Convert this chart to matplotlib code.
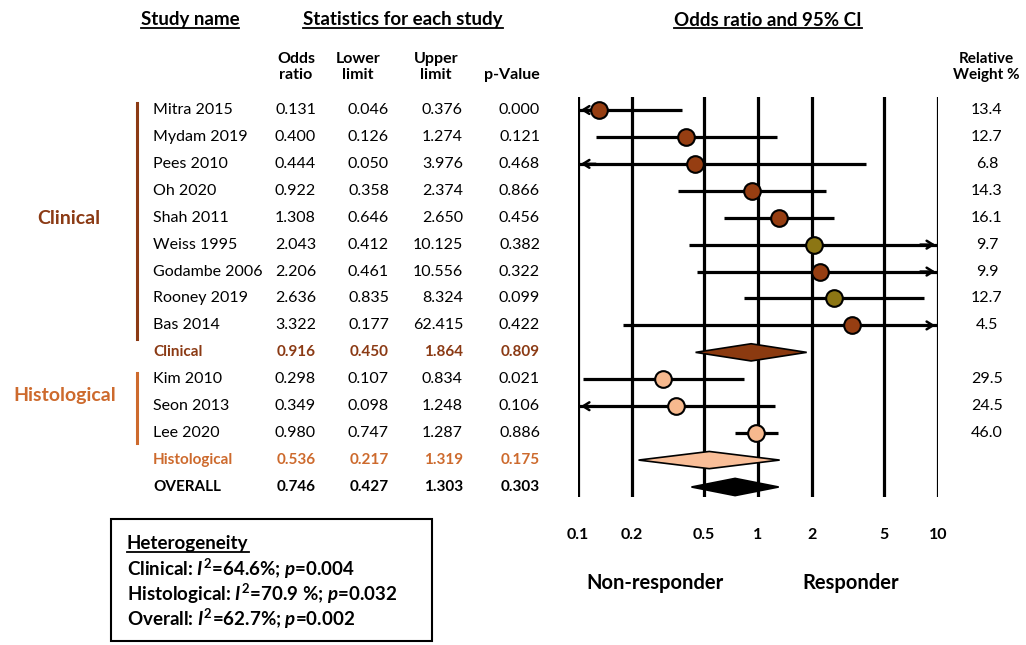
import numpy as np
import matplotlib.pyplot as plt
import matplotlib.patches as patches
import matplotlib.transforms as mtransforms
from matplotlib.lines import Line2D

plt.rcParams['font.family'] = ['Lato', 'DejaVu Sans']
plt.rcParams['mathtext.fontset'] = 'custom'
plt.rcParams['mathtext.rm'] = 'Lato:bold'
plt.rcParams['mathtext.it'] = 'Lato:bold:italic'
plt.rcParams['mathtext.bf'] = 'Lato:bold'

# Data
study_names = ['Mitra 2015', 'Mydam 2019', 'Pees 2010', 'Oh 2020', 'Shah 2011',
               'Weiss 1995', 'Godambe 2006', 'Rooney 2019', 'Bas 2014',
               'Clinical', 'Kim 2010', 'Seon 2013', 'Lee 2020',
               'Histological', 'OVERALL']
row_kind = ['study'] * 9 + ['sub'] + ['study'] * 3 + ['sub', 'overall']
row_group = ['clin'] * 10 + ['hist'] * 4 + ['all']
odds_ratio = [0.131, 0.400, 0.444, 0.922, 1.308, 2.043, 2.206, 2.636, 3.322,
              0.916, 0.298, 0.349, 0.980, 0.536, 0.746]
lower_limit = [0.046, 0.126, 0.050, 0.358, 0.646, 0.412, 0.461, 0.835, 0.177,
               0.450, 0.107, 0.098, 0.747, 0.217, 0.427]
upper_limit = [0.376, 1.274, 3.976, 2.374, 2.650, 10.125, 10.556, 8.324, 62.415,
               1.864, 0.834, 1.248, 1.287, 1.319, 1.303]
p_values = [0.000, 0.121, 0.468, 0.866, 0.456, 0.382, 0.322, 0.099, 0.422,
            0.809, 0.021, 0.106, 0.886, 0.175, 0.303]
rel_weight = [13.4, 12.7, 6.8, 14.3, 16.1, 9.7, 9.9, 12.7, 4.5,
              None, 29.5, 24.5, 46.0, None, None]
olive_studies = ['Weiss 1995', 'Rooney 2019']
tick_vals = [0.1, 0.2, 0.5, 1, 2, 5, 10]
tick_labels = ['0.1', '0.2', '0.5', '1', '2', '5', '10']
het_lines = [r'Clinical: $I^{\mathrm{2}}$=64.6%; $p$=0.004',
             r'Histological: $I^{\mathrm{2}}$=70.9 %; $p$=0.032',
             r'Overall: $I^{\mathrm{2}}$=62.7%; $p$=0.002']

# Colours
brown = '#8B3A14'
brown_dot = '#963E12'
olive = '#8C7614'
orange = '#CD6A2D'
peach = '#F7B98E'
row_colors = {'clin': brown, 'hist': orange, 'all': 'black'}
diamond_colors = {'clin': '#8B3A10', 'hist': '#F9BE98', 'all': 'black'}

W, H = 1026, 645
fig = plt.figure(figsize=(W / 100, H / 100), dpi=100)


def fx(px):
    return px / W


def fy(py):
    return 1 - py / H


# forest axes: lines from y=97 to 497 px, x from 578 to 938 px
ax = fig.add_axes([fx(578), fy(497), fx(938) - fx(578), fy(97) - fy(497)])
n = len(study_names)
row0, dy = 110, (487 - 110) / (n - 1)
ax.set_xscale('log')
ax.set_xlim(0.1, 10)
ax.set_ylim((497 - row0) / dy, (97 - row0) / dy)
for s in ax.spines.values():
    s.set_visible(False)
ax.set_yticks([])
ax.set_xticks(tick_vals)
ax.set_xticklabels(tick_labels, fontsize=11.5, fontweight='bold')
ax.minorticks_off()
ax.tick_params(axis='x', length=0, pad=22)
for t in tick_vals:
    ax.axvline(t, color='black', lw=2.3, zorder=1)

lo_lim, hi_lim = 0.1, 10
arrow = dict(arrowstyle='->,head_length=0.45,head_width=0.28', lw=1.8, color='black')
for i in range(n):
    o, lo, hi = odds_ratio[i], lower_limit[i], upper_limit[i]
    g = row_group[i]
    if row_kind[i] == 'study':
        lo_c, hi_c = max(lo, lo_lim), min(hi, hi_lim)
        ax.plot([lo_c, hi_c], [i, i], color='black', lw=2.3, zorder=2,
                solid_capstyle='butt')
        if lo < lo_lim:
            ax.annotate('', xy=(lo_lim, i), xytext=(lo_lim * 1.3, i),
                        arrowprops=arrow, zorder=2)
        if hi > hi_lim:
            ax.annotate('', xy=(hi_lim, i), xytext=(hi_lim / 1.3, i),
                        arrowprops=arrow, zorder=2)
        if g == 'hist':
            fc = peach
        elif study_names[i] in olive_studies:
            fc = olive
        else:
            fc = brown_dot
        ax.plot(o, i, 'o', ms=12, mfc=fc, mec='black', mew=1.5, zorder=3)
    else:
        h = 0.32
        d = patches.Polygon([(lo, i), (o, i - h), (hi, i), (o, i + h)],
                            closed=True, fc=diamond_colors[g], ec='black',
                            lw=1.2, zorder=3)
        ax.add_patch(d)

# table text, rows tied to the forest axes' y scale
tr = mtransforms.blended_transform_factory(fig.transFigure, ax.transData)
col_right = [316, 389, 463, 540]
for i in range(n):
    kind, g = row_kind[i], row_group[i]
    if kind == 'study':
        c, w, fs = 'black', 'normal', 11.5
    else:
        c, w, fs = row_colors[g], 'bold', 11
    fig.text(fx(153), i, study_names[i], transform=tr, ha='left', va='center',
             color=c, fontweight=w, fontsize=fs)
    vals = [odds_ratio[i], lower_limit[i], upper_limit[i], p_values[i]]
    for x, v in zip(col_right, vals):
        fig.text(fx(x), i, f'{v:.3f}', transform=tr, ha='right', va='center',
                 color=c, fontweight=w, fontsize=fs)
    if rel_weight[i] is not None:
        fig.text(fx(987), i, f'{rel_weight[i]:.1f}', transform=tr, ha='center',
                 va='center', fontsize=11.5)

# group brackets and labels
fig.add_artist(Line2D([fx(137), fx(137)], [fy(103), fy(339)], color=brown, lw=2.2))
fig.add_artist(Line2D([fx(137), fx(137)], [fy(373), fy(443)], color=orange, lw=2.2))
fig.text(fx(69), fy(218), 'Clinical', ha='center', va='center', color=brown,
         fontweight='bold', fontsize=14)
fig.text(fx(65), fy(396), 'Histological', ha='center', va='center', color=orange,
         fontweight='bold', fontsize=14)

# column headers
for x, t in zip([296, 358, 436, 512], ['Odds\nratio', 'Lower\nlimit', 'Upper\nlimit', '\np-Value']):
    fig.text(fx(x), fy(67), t, ha='center', va='center', fontweight='bold',
             fontsize=11.5, linespacing=1.1)
fig.text(fx(986), fy(67), 'Relative\nWeight %', ha='center', va='center',
         fontweight='bold', fontsize=11, linespacing=1.1)

underlined = []
for x, t in [(190, 'Study name'), (403, 'Statistics for each study'),
             (768, 'Odds ratio and 95% CI')]:
    underlined.append(fig.text(fx(x), fy(20), t, ha='center', va='center',
                               fontweight='bold', fontsize=13.5))

fig.text(fx(655), fy(583), 'Non-responder', ha='center', va='center',
         fontweight='bold', fontsize=14.5)
fig.text(fx(851), fy(583), 'Responder', ha='center', va='center',
         fontweight='bold', fontsize=14.5)

# heterogeneity box
fig.add_artist(patches.Rectangle((fx(111), fy(641)), fx(432) - fx(111), fy(519) - fy(641),
                                 transform=fig.transFigure, fill=False, ec='black', lw=1.5))
underlined.append(fig.text(fx(127), fy(544), 'Heterogeneity', ha='left', va='center',
                           fontweight='bold', fontsize=13.5))
for k, line in enumerate(het_lines):
    fig.text(fx(127), fy(569 + 25 * k), line, ha='left', va='center',
             fontweight='bold', fontsize=13.5)

# underline headers
fig.canvas.draw()
renderer = fig.canvas.get_renderer()
for t in underlined:
    bb = t.get_window_extent(renderer).transformed(fig.transFigure.inverted())
    yline = bb.y0 + 1.0 / H
    fig.add_artist(Line2D([bb.x0, bb.x1], [yline, yline], color='black', lw=1.3))

fig.savefig('out.png', dpi=100)
